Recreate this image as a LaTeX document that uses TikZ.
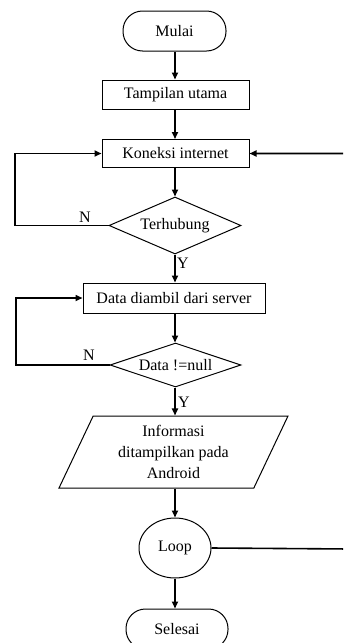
\documentclass[tikz,border=0pt]{standalone}
\usepackage{fontspec}
\setmainfont{Liberation Serif}
\usetikzlibrary{shapes.geometric,arrows.meta}
\tikzset{
  base/.style={draw, line width=1pt, inner sep=0pt, font=\fontsize{16}{21}\selectfont, align=center},
  term/.style={base, rectangle, rounded corners=19.5pt, minimum width=103pt, minimum height=40pt},
  proc/.style={base, rectangle, minimum height=29pt},
  decide/.style={base, diamond, aspect=2.3},
  io/.style={base, trapezium, trapezium left angle=57.4, trapezium right angle=122.6, trapezium stretches body=true, minimum width=229pt, minimum height=72pt},
  circ/.style={base, ellipse, minimum width=72pt, minimum height=60pt},
  conn/.style={line width=1.6pt, -{Triangle[length=7pt,width=6pt]}},
  lbl/.style={font=\fontsize{16}{18}\selectfont, inner sep=0pt}
}
\begin{document}
\begin{tikzpicture}[x=1pt,y=-1pt]
\useasboundingbox (0,0) rectangle (343,643);
\clip (0,0) rectangle (343,643);
\node[term] (mulai) at (174.5,31) {Mulai};
\node[proc, minimum width=147pt] (tampil) at (175.5,94.5) {Tampilan utama};
\node[proc, minimum width=147pt, minimum height=28pt] (koneksi) at (175.5,153.5) {Koneksi internet};
\node[decide, minimum width=132pt, minimum height=57pt] (hub) at (175,225.5) {Terhubung};
\node[proc, minimum width=182pt, minimum height=30pt] (data) at (174,298) {Data diambil dari server};
\node[decide, minimum width=131pt, minimum height=44pt] (dnull) at (175.5,365) {Data !=null};
\node[io] (info) at (173.5,452) {Informasi\\ditampilkan pada\\Android};
\node[circ] (loop) at (175,548) {Loop};
\node[term, minimum width=102pt] (selesai) at (177,629) {Selesai};
\coordinate (edge) at (350,549);
\coordinate (lefta) at (15,225.5);
\coordinate (leftb) at (16,365);
% connectors
\draw[conn] (mulai.south -| 175,0) -- (tampil.north -| 175,0);
\draw[conn] (tampil.south -| 175,0) -- (koneksi.north -| 175,0);
\draw[conn] (koneksi.south -| hub.north) -- (hub.north);
\draw[conn] (hub.west) -- (lefta) |- (koneksi.west);
\draw[conn] (hub.south) -- (data.north -| hub.south);
\draw[conn] (data.south -| 175,0) -- (dnull.north -| 175,0);
\draw[conn] (dnull.west) -- (leftb) |- (data.west);
\draw[conn] (dnull.south -| 175,0) -- (info.north -| 175,0);
\draw[conn] (info.south -| 175,0) -- (loop.north);
\draw[conn] (loop.east) -- (edge) |- (koneksi.east);
\draw[conn] (loop.south) -- (selesai.north -| loop.south);
% labels
\node[lbl] (n1) at (85,217) {N};
\node[lbl] (y1) at (183,263) {Y};
\node[lbl] (n2) at (89,355) {N};
\node[lbl] (y2) at (184,402) {Y};
\end{tikzpicture}
\end{document}
